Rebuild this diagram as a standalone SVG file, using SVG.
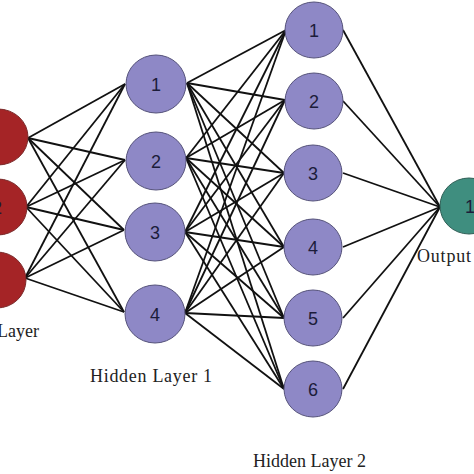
<svg xmlns="http://www.w3.org/2000/svg" width="474" height="474" viewBox="0 0 474 474">
<style>
.in{fill:#a52426;stroke:#7a2a2a;stroke-width:1}
.hid{fill:#8e88c6;stroke:#55527a;stroke-width:1}
.out{fill:#3f8e7f;stroke:#2e5e55;stroke-width:1}
.num{font-family:"Liberation Sans",Arial,sans-serif;font-size:18px;fill:#1c1c3a;text-anchor:middle}
.lbl{font-family:"Liberation Serif","Times New Roman",serif;font-size:18px;fill:#222}
#edges line{stroke:#111;stroke-width:1.8}
</style>
<rect width="474" height="474" fill="#fff"/>
<g id="edges">
<line x1="28" y1="138" x2="125" y2="84"/><line x1="28" y1="138" x2="125" y2="160"/><line x1="28" y1="138" x2="124" y2="230"/><line x1="28" y1="138" x2="124" y2="312"/>
<line x1="26" y1="207" x2="125" y2="84"/><line x1="26" y1="207" x2="125" y2="160"/><line x1="26" y1="207" x2="124" y2="230"/><line x1="26" y1="207" x2="124" y2="312"/>
<line x1="25" y1="278" x2="125" y2="84"/><line x1="25" y1="278" x2="125" y2="160"/><line x1="25" y1="278" x2="124" y2="230"/><line x1="25" y1="278" x2="124" y2="312"/>
<line x1="187" y1="83" x2="286" y2="30"/><line x1="187" y1="83" x2="285" y2="100"/><line x1="187" y1="83" x2="284" y2="173"/><line x1="187" y1="83" x2="284" y2="247"/><line x1="187" y1="83" x2="284" y2="318"/><line x1="187" y1="83" x2="284" y2="389"/>
<line x1="186" y1="158" x2="286" y2="30"/><line x1="186" y1="158" x2="285" y2="100"/><line x1="186" y1="158" x2="284" y2="173"/><line x1="186" y1="158" x2="284" y2="247"/><line x1="186" y1="158" x2="284" y2="318"/><line x1="186" y1="158" x2="284" y2="389"/>
<line x1="185" y1="232" x2="286" y2="30"/><line x1="185" y1="232" x2="285" y2="100"/><line x1="185" y1="232" x2="284" y2="173"/><line x1="185" y1="232" x2="284" y2="247"/><line x1="185" y1="232" x2="284" y2="318"/><line x1="185" y1="232" x2="284" y2="389"/>
<line x1="185" y1="313" x2="286" y2="30"/><line x1="185" y1="313" x2="285" y2="100"/><line x1="185" y1="313" x2="284" y2="173"/><line x1="185" y1="313" x2="284" y2="247"/><line x1="185" y1="313" x2="284" y2="318"/><line x1="185" y1="313" x2="284" y2="389"/>
<line x1="343" y1="30" x2="440" y2="207"/><line x1="343" y1="101" x2="440" y2="207"/><line x1="343" y1="173" x2="440" y2="207"/><line x1="343" y1="247" x2="440" y2="207"/><line x1="343" y1="318" x2="440" y2="207"/><line x1="343" y1="389" x2="440" y2="207"/>
</g>
<g id="in1"><ellipse class="in" cx="-2" cy="137" rx="30" ry="28"/></g>
<g id="in2"><ellipse class="in" cx="-2" cy="207" rx="29" ry="28"/><text class="num" x="-3" y="214">2</text></g>
<g id="in3"><ellipse class="in" cx="-3" cy="280" rx="29" ry="28"/></g>
<g id="h1_1"><ellipse class="hid" cx="156" cy="84" rx="30" ry="29"/><text class="num" x="156" y="91">1</text></g>
<g id="h1_2"><ellipse class="hid" cx="156" cy="161" rx="30" ry="29"/><text class="num" x="156" y="168">2</text></g>
<g id="h1_3"><ellipse class="hid" cx="155" cy="232" rx="30" ry="29"/><text class="num" x="155" y="239">3</text></g>
<g id="h1_4"><ellipse class="hid" cx="155" cy="314" rx="30" ry="29"/><text class="num" x="155" y="321">4</text></g>
<g id="h2_1"><ellipse class="hid" cx="314" cy="30" rx="29" ry="28"/><text class="num" x="314" y="37">1</text></g>
<g id="h2_2"><ellipse class="hid" cx="314" cy="101" rx="29" ry="28"/><text class="num" x="314" y="108">2</text></g>
<g id="h2_3"><ellipse class="hid" cx="313" cy="173" rx="29" ry="28"/><text class="num" x="313" y="180">3</text></g>
<g id="h2_4"><ellipse class="hid" cx="313" cy="247" rx="29" ry="28"/><text class="num" x="313" y="254">4</text></g>
<g id="h2_5"><ellipse class="hid" cx="313" cy="318" rx="29" ry="28"/><text class="num" x="313" y="325">5</text></g>
<g id="h2_6"><ellipse class="hid" cx="313" cy="389" rx="29" ry="28"/><text class="num" x="313" y="396">6</text></g>
<g id="out1"><ellipse class="out" cx="469" cy="206" rx="29" ry="28"/><text class="num" x="470" y="213">1</text></g>
<text class="lbl" x="-3" y="337">Layer</text>
<text class="lbl" x="90" y="382" letter-spacing="0.7">Hidden Layer 1</text>
<text class="lbl" x="253" y="467">Hidden Layer 2</text>
<text class="lbl" x="417" y="262" letter-spacing="0.8">Output</text>
</svg>
